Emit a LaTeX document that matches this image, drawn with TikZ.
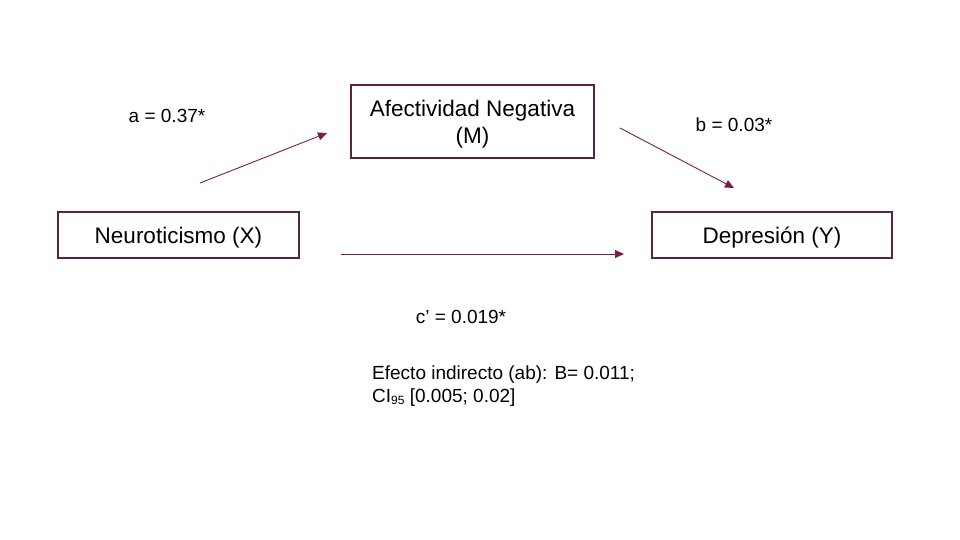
\documentclass[tikz,border=0pt]{standalone}
\usepackage{fontspec}
\setmainfont{Liberation Sans}
\usetikzlibrary{arrows.meta}
\definecolor{boxc}{RGB}{90,35,65}
\definecolor{arrc}{RGB}{122,32,72}
\tikzset{
  varbox/.style={draw=boxc, line width=1.5pt, fill=white, inner sep=0pt},
  boxtext/.style={inner sep=0pt, align=center, font=\fontsize{22.5}{27}\selectfont},
  path/.style={draw=arrc, line width=0.9pt, -{Triangle[length=9pt,width=8pt]}},
  lab/.style={inner sep=0pt, font=\fontsize{19}{23}\selectfont}
}
\begin{document}
\begin{tikzpicture}[x=1pt,y=-1pt]
\path[use as bounding box, fill=white] (0,0) rectangle (960,540);
\node[varbox, minimum width=241pt, minimum height=46pt] (X) at (178.5,235) {};
\node[varbox, minimum width=243pt, minimum height=73pt] (M) at (472.5,121.5) {};
\node[varbox, minimum width=240pt, minimum height=46pt] (Y) at (772,235) {};
\node[boxtext] (Xt) at ([yshift=-3pt]X.center) {Neuroticismo (X)};
\node[boxtext] (Mt) at ([yshift=-2.5pt]M.center) {Afectividad Negativa\\(M)};
\node[boxtext] (Yt) at ([yshift=-3pt]Y.center) {Depresión (Y)};
\coordinate (a1) at (200,183);
\coordinate (a2) at (327,133);
\coordinate (b1) at (620,128);
\coordinate (b2) at (734,188);
\coordinate (c1) at (341,254);
\coordinate (c2) at (624,254);
\draw[path] (a1) -- (a2);
\draw[path] (b1) -- (b2);
\draw[path] (c1) -- (c2);
\node[lab] (la) at (167,116) {a = 0.37*};
\node[lab] (lb) at (734,125) {b = 0.03*};
\node[lab] (lc) at (461,317) {c’ = 0.019*};
\node[lab, anchor=west, align=left] (ind) at (372,386.5) {Efecto indirecto (ab): B= 0.011;\\CI{\fontsize{12}{12}\selectfont\raisebox{-2pt}{95}} [0.005; 0.02]};
\end{tikzpicture}
\end{document}
